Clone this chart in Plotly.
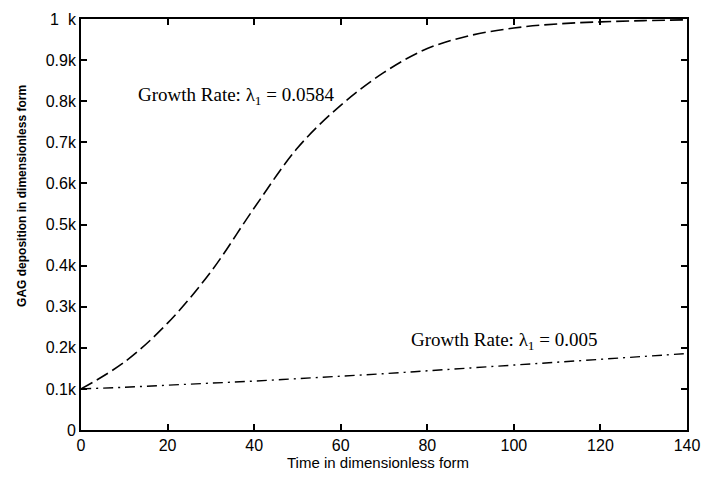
import plotly.graph_objects as go

t = [0, 10, 20, 30, 40, 50, 60, 70, 80, 90, 100, 110, 120, 130, 140]
fast = [100, 165, 260, 385, 540, 686, 790, 870, 928, 960, 978, 988, 993, 996, 998]
slow = [100, 104, 109, 114, 119, 125, 131, 137, 144, 151, 158, 165, 172, 179, 186]

x_ticks = [0, 20, 40, 60, 80, 100, 120, 140]
y_ticks = [0, 100, 200, 300, 400, 500, 600, 700, 800, 900, 1000]
y_labels = ["0", "0.1k", "0.2k", "0.3k", "0.4k", "0.5k", "0.6k", "0.7k", "0.8k", "0.9k", "1  k"]

fig = go.Figure()
fig.add_trace(go.Scatter(x=t, y=fast, mode="lines", line=dict(color="black", width=1.6, dash="13px,5px"), line_shape="spline"))
fig.add_trace(go.Scatter(x=t, y=slow, mode="lines", line=dict(color="black", width=1.4, dash="10px,5px,2px,5px"), line_shape="spline"))

fig.add_annotation(x=35.7, y=812, xref="x", yref="y", text="Growth Rate: λ<sub>1</sub> = 0.0584",
                   showarrow=False, font=dict(family="Liberation Serif", size=19, color="black"))
fig.add_annotation(x=97.8, y=217, xref="x", yref="y", text="Growth Rate: λ<sub>1</sub> = 0.005",
                   showarrow=False, font=dict(family="Liberation Serif", size=19, color="black"))

fig.add_annotation(x=0.49, y=-0.08, xref="paper", yref="paper", text="Time in dimensionless form",
                   showarrow=False, xanchor="center", yanchor="middle",
                   font=dict(family="Liberation Sans", size=15, color="black"))
fig.add_annotation(x=-0.097, y=0.57, xref="paper", yref="paper", text="<b>GAG deposition in dimensionless form</b>",
                   showarrow=False, textangle=-90, xanchor="center", yanchor="middle",
                   font=dict(family="Liberation Sans", size=12, color="black"))

axis_common = dict(showgrid=False, zeroline=False, showline=True, linecolor="black", linewidth=1.8,
                   mirror="ticks", ticks="inside", ticklen=6, tickwidth=1.5, tickcolor="black",
                   automargin=False,
                   tickfont=dict(family="Liberation Sans", size=16, color="black"))
fig.update_xaxes(range=[0, 140], tickvals=x_ticks, **axis_common)
fig.update_yaxes(range=[0, 1000], tickvals=y_ticks, ticktext=y_labels, **axis_common)

# the page body adds an 8px offset, so margins are shifted to keep the plot area in place
fig.update_layout(width=710, height=483, showlegend=False, plot_bgcolor="white", paper_bgcolor="white",
                  margin=dict(l=73, r=31, t=11, b=61))
fig.write_html("out.html")
